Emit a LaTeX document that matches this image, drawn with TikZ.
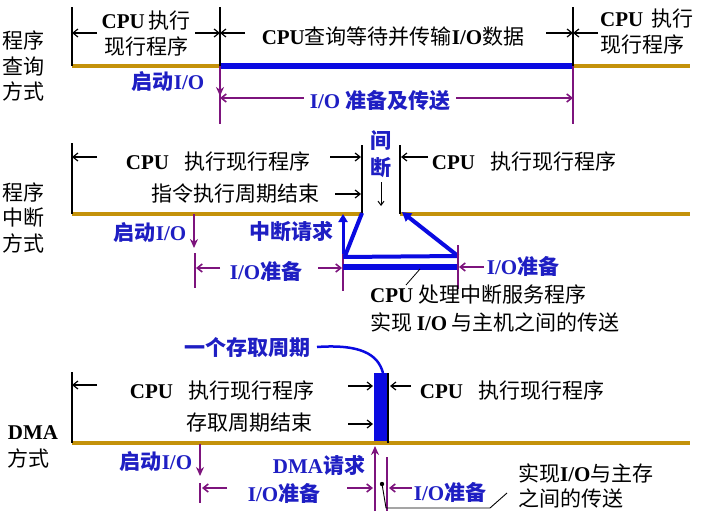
\documentclass[tikz,border=0pt]{standalone}
\usepackage{fontspec}
\setmainfont{Noto Sans CJK SC}
\newfontfamily\tms{Liberation Serif}
\usetikzlibrary{arrows.meta}
\definecolor{gold}{RGB}{196,146,10}
\definecolor{myblue}{RGB}{10,10,225}
\definecolor{lblue}{RGB}{30,30,195}
\definecolor{mypurple}{RGB}{125,20,125}
\newcommand{\lt}[1]{{\tms\bfseries #1}}
\tikzset{
  txt/.style={font=\fontsize{21}{26}\selectfont, inner sep=0pt, text=black},
  blab/.style={font=\fontsize{21}{25}\selectfont\bfseries, inner sep=0pt, text=lblue},
  goldline/.style={draw=gold, line width=3.5pt},
  vbar/.style={draw=black, line width=1.8pt},
  darr/.style={draw=black, line width=1.2pt, -{Straight Barb[length=5pt,width=8pt]}},
  parr/.style={draw=mypurple, line width=1.6pt, -{Straight Barb[length=5pt,width=8pt]}},
  pdown/.style={draw=mypurple, line width=2.2pt, -{Stealth[length=9pt,width=8pt]}},
  ptick/.style={draw=mypurple, line width=2pt},
  bthick/.style={draw=myblue, line width=4pt},
}
\begin{document}
\begin{tikzpicture}[x=1pt,y=-1pt]
\useasboundingbox (0,0) rectangle (701,514);
% ================= Top: program query =================
\node[txt] (ql1) at (23,40) {程序};
\node[txt] (ql2) at (23,66) {查询};
\node[txt] (ql3) at (23,91) {方式};
\coordinate (qa0) at (72,7);   \coordinate (qa1) at (72,66);
\coordinate (qb0) at (220,7);  \coordinate (qb1) at (220,66); \coordinate (qb2) at (220,124);
\coordinate (qc0) at (573,7);  \coordinate (qc1) at (573,66); \coordinate (qc2) at (573,124);
\coordinate (qe) at (690,66);
\draw[goldline] (qa1) -- (qb1);
\draw[goldline] (qc1) -- (qe);
\draw[draw=myblue, line width=6pt] (qb1) -- (qc1);
\draw[vbar] (qa0) -- (qa1);
\draw[vbar] (qb0) -- (qb1);
\draw[vbar] (qc0) -- (qc1);
\node[txt, align=center] (q1) at (146,34) {\lt{CPU}\,执行\\现行程序};
\node[txt] (q2) at (393,37) {\lt{CPU}查询等待并传输\lt{I/O}数据};
\node[txt, align=left, anchor=west] (q3) at (600,32) {\lt{CPU}\hspace{8pt}执行\\现行程序};
\coordinate (q1l) at (97,33);  \coordinate (q1r) at (195,33);
\coordinate (q2l) at (245,33); \coordinate (q2r) at (546,33);
\coordinate (q3l) at (598,33);
\draw[darr] (q1l) -- (qa0 |- q1l);
\draw[darr] (q1r) -- (qb0 |- q1r);
\draw[darr] (q2l) -- (qb0 |- q2l);
\draw[darr] (q2r) -- (qc0 |- q2r);
\draw[darr] (q3l) -- (qc0 |- q3l);
\node[blab] (qs) at (168,82) {启动\lt{I/O}};
\draw[ptick] (qb1) -- (qb2);
\draw[ptick] (qc1) -- (qc2);
\coordinate (qsd) at (220,96);
\draw[pdown] (qb1) -- (qsd);
\node[blab] (qd) at (380,101) {\lt{I/O}\ 准备及传送};
\draw[parr] (qd.west) ++(-6,-3) coordinate (qdl) -- (qb1 |- qdl);
\draw[parr] (qd.east) ++(6,-3) coordinate (qdr) -- (qc1 |- qdr);
% ================= Middle: interrupt =================
\node[txt] (ml1) at (23,192) {程序};
\node[txt] (ml2) at (23,218) {中断};
\node[txt] (ml3) at (23,243) {方式};
\coordinate (ma0) at (72,143);  \coordinate (ma1) at (72,214);
\coordinate (mb0) at (362,145); \coordinate (mb1) at (362,214);
\coordinate (mc0) at (400,145); \coordinate (mc1) at (400,214);
\coordinate (me) at (690,214);
\draw[goldline] (ma1) -- (mb1);
\draw[goldline] (mc1) -- (me);
\draw[vbar] (ma0) -- (ma1);
\draw[vbar] (mb0) -- (mb1);
\draw[vbar] (mc0) -- (mc1);
\node[txt] (m1) at (218,161) {\lt{CPU}\hspace{15pt}执行现行程序};
\node[txt] (m2) at (235,194) {指令执行周期结束};
\node[txt] (m3) at (524,161) {\lt{CPU}\hspace{15pt}执行现行程序};
\coordinate (m1l) at (97,157); \coordinate (m1r) at (330,157);
\coordinate (m2r) at (335,194); \coordinate (m3l) at (428,157);
\draw[darr] (m1l) -- (ma0 |- m1l);
\draw[darr] (m1r) -- ([xshift=-1pt]mb0 |- m1r);
\draw[darr] (m2r) -- ([xshift=-1pt]mb0 |- m2r);
\draw[darr] (m3l) -- ([xshift=1pt]mc0 |- m3l);
\node[blab] (jian) at (381,141) {间};
\node[blab] (duan) at (381,168) {断};
\coordinate (jd0) at (381,182); \coordinate (jd1) at (381,206);
\draw[draw=black, line width=1pt, -{Straight Barb[length=4pt,width=6pt]}] (jd0) -- (jd1);
\node[blab] (mst) at (150,233) {启动\lt{I/O}};
\coordinate (ms0) at (194,214); \coordinate (ms1) at (194,248);
\coordinate (mt0) at (195,253); \coordinate (mt1) at (195,288);
\draw[pdown] (ms0) -- (ms1);
\draw[ptick] (mt0) -- (mt1);
\node[blab] (mio) at (266,271) {\lt{I/O}准备};
\coordinate (mp0) at (343,252); \coordinate (mp1) at (343,291);
\draw[ptick] (mp0) -- (mp1);
\coordinate (mio1l) at (220,268); \coordinate (mio1r) at (318,268);
\draw[parr] (mio1l) -- ([xshift=1pt]mt0 |- mio1l);
\draw[parr] (mio1r) -- ([xshift=-1pt]mp0 |- mio1r);
\node[blab] (mreq) at (291,232) {中断请求};
\coordinate (mu0) at (343,254); \coordinate (mu1) at (343,214);
\draw[draw=myblue, line width=3pt, -{Triangle[length=8pt,width=9pt]}] (mu0) -- (mu1);
\coordinate (bl) at (345,256); \coordinate (br) at (458,256);
\coordinate (bl2) at (343,267); \coordinate (br2) at (458,267);
\draw[bthick] ([yshift=1pt]mb1) -- (bl);
\draw[bthick] (343,257) -- (br);
\draw[draw=myblue, line width=6pt] (bl2) -- (br2);
\draw[bthick, -{Triangle[length=9pt,width=10pt]}] (br) -- ([xshift=2pt,yshift=2pt]mc1);
\coordinate (mq0) at (458,245); \coordinate (mq1) at (458,289);
\draw[ptick] (mq0) -- (mq1);
\node[blab] (mio2) at (523,266) {\lt{I/O}准备};
\coordinate (mio2l) at (484,267);
\draw[parr] (mio2l) -- ([xshift=1pt]mq0 |- mio2l);
\coordinate (ld0) at (420,269); \coordinate (ld1) at (406,285);
\draw[draw=black, line width=0.8pt] (ld0) -- (ld1);
\node[txt, anchor=west] (mt1a) at (370,295) {\lt{CPU}\ 处理中断服务程序};
\node[txt, anchor=west] (mt1b) at (370,322) {实现\ \lt{I/O}\ 与主机之间的传送};
% ================= Bottom: DMA =================
\node[blab] (cyc) at (247,348) {一个存取周期};
\coordinate (cyc0) at (317,347);
\coordinate (bar0) at (374,373); \coordinate (bar1) at (387,445);
\fill[myblue] (bar0) rectangle (bar1);
\draw[draw=myblue, line width=2.5pt] (cyc0) .. controls (360,344) and (378,354) .. (383,373);
\coordinate (da0) at (72,372); \coordinate (da1) at (72,443);
\coordinate (de) at (690,443);
\coordinate (dk0) at (388,373); \coordinate (dk1) at (388,443);
\draw[goldline] (da1) -- (de);
\draw[vbar] (da0) -- (da1);
\draw[vbar] (dk0) -- (dk1);
\node[txt] (d1) at (222,390) {\lt{CPU}\hspace{15pt}执行现行程序};
\node[txt] (d2) at (249,423) {存取周期结束};
\node[txt] (d3) at (512,390) {\lt{CPU}\hspace{15pt}执行现行程序};
\coordinate (d1l) at (97,385); \coordinate (d1r) at (348,386);
\coordinate (d2r) at (348,424); \coordinate (d3l) at (411,386);
\draw[darr] (d1l) -- (da0 |- d1l);
\draw[darr] (d1r) -- ([xshift=-1pt]bar0 |- d1r);
\draw[darr] (d2r) -- ([xshift=-1pt]bar0 |- d2r);
\draw[darr] (d3l) -- ([xshift=2pt]dk0 |- d3l);
\node[txt, font=\fontsize{21}{26}\selectfont\tms\bfseries] (dma) at (33,433) {DMA};
\node[txt] (dfs) at (29,458) {方式};
\node[blab] (dst) at (156,462) {启动\lt{I/O}};
\coordinate (ds0) at (200,444); \coordinate (ds1) at (200,476);
\coordinate (dt0) at (200,483); \coordinate (dt1) at (200,503);
\draw[pdown] (ds0) -- (ds1);
\draw[ptick] (dt0) -- (dt1);
\node[blab] (dio) at (284,493) {\lt{I/O}准备};
\node[blab] (dreq) at (319,465) {\lt{DMA}请求};
\coordinate (du0) at (375,511); \coordinate (du1) at (375,446);
\draw[draw=mypurple, line width=2.2pt, -{Stealth[length=9pt,width=8pt]}] (du0) -- (du1);
\coordinate (dv0) at (387,457); \coordinate (dv1) at (387,511);
\draw[ptick] (dv0) -- (dv1);
\coordinate (dio1l) at (227,488); \coordinate (dio1r) at (347,488);
\draw[parr] (dio1l) -- ([xshift=2pt]dt0 |- dio1l);
\draw[parr] (dio1r) -- ([xshift=-2pt]du0 |- dio1r);
\node[blab] (dio2) at (450,492) {\lt{I/O}准备};
\coordinate (dio2l) at (412,488);
\draw[parr] (dio2l) -- ([xshift=2pt]dv0 |- dio2l);
\coordinate (lk0) at (382,484); \coordinate (lk1) at (386,508);
\coordinate (lk2) at (490,508); \coordinate (lk3) at (507,493);
\fill[black] (lk0) circle (2.2pt);
\draw[draw=black, line width=0.9pt] (lk0) -- (lk1) -- (lk2) -- (lk3);
\node[txt, anchor=west] (dn1) at (518,473) {实现\lt{I/O}与主存};
\node[txt, anchor=west] (dn2) at (518,498) {之间的传送};
\end{tikzpicture}
\end{document}
